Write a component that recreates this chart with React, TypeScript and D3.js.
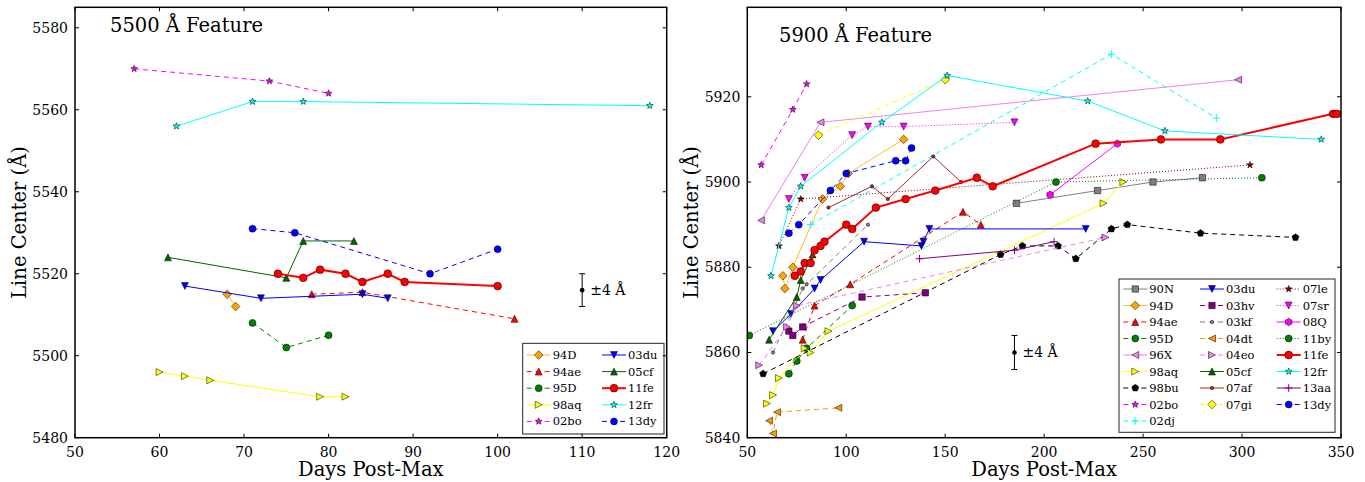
import React, { useRef, useEffect } from "react";
import * as d3 from "d3";

// ---- 5500 Å feature (left panel): [days post-max, line center in Å]
const L94D = [[68, 5515], [69, 5512]];
const L94ae = [[78, 5515], [84, 5515.5], [102, 5509]];
const L95D = [[71, 5508], [75, 5502], [80, 5505]];
const L98aq = [[60, 5496], [63, 5495], [66, 5494], [79, 5490], [82, 5490]];
const L02bo = [[57, 5570], [73, 5567], [80, 5564]];
const L03du = [[63, 5517], [72, 5514], [84, 5515], [87, 5514]];
const L05cf = [[61, 5524], [75, 5519], [77, 5528], [83, 5528]];
const L11fe = [[74, 5520], [77, 5519], [79, 5521], [82, 5520], [84, 5518], [87, 5520], [89, 5518], [100, 5517]];
const L12fr = [[62, 5556], [71, 5562], [77, 5562], [118, 5561]];
const L13dy = [[71, 5531], [76, 5530], [92, 5520], [100, 5526]];

// ---- 5900 Å feature (right panel)
const R90N = [[186, 5895], [227, 5898], [255, 5900], [280, 5901]];
const R94D = [[68, 5878], [69, 5875], [73, 5880], [88, 5896], [97, 5899], [101, 5902], [129, 5910]];
const R94ae = [[78, 5863], [84, 5871], [102, 5876], [159, 5893], [168, 5890]];
const R95D = [[71, 5855], [75, 5858], [80, 5861], [103, 5871]];
const R96X = [[57, 5891], [87, 5914], [298, 5924]];
const R98aq = [[60, 5848], [63, 5850], [66, 5854], [79, 5861], [82, 5860], [91, 5865], [230, 5895], [240, 5900]];
const R98bu = [[58, 5855], [178, 5883], [189, 5885], [207, 5885], [216, 5882], [234, 5889], [242, 5890], [279, 5888], [327, 5887]];
const R02bo = [[57, 5904], [73, 5917], [80, 5923]];
const R02dj = [[82, 5890], [234, 5930], [287, 5915]];
const R03du = [[63, 5865], [72, 5869], [84, 5875], [87, 5877], [109, 5886], [138, 5885], [139, 5886], [142, 5889], [221, 5889]];
const R03hv = [[71, 5865], [73, 5864], [78, 5866], [108, 5873], [140, 5874]];
const R03kf = [[63, 5860], [78, 5875], [80, 5876], [111, 5890]];
const R04dt = [[61, 5844], [63, 5841], [65, 5846], [96, 5847]];
const R04eo = [[56, 5857], [70, 5866], [75, 5871], [231, 5887]];
const R05cf = [[61, 5863], [75, 5873], [77, 5877], [83, 5883]];
const R07af = [[91, 5894], [113, 5899], [121, 5896], [144, 5906], [158, 5900]];
const R07gi = [[86, 5911], [150, 5924]];
const R07le = [[66, 5885], [77, 5896], [304, 5904]];
const R07sr = [[71, 5896], [79, 5901], [103, 5911], [111, 5913], [129, 5913], [185, 5914]];
const R08Q = [[203, 5897], [237, 5909]];
const R11by = [[51, 5864], [206, 5900], [310, 5901]];
const R11fe = [[74, 5878], [77, 5879], [79, 5881], [82, 5881], [84, 5884], [87, 5885], [89, 5886], [100, 5890], [103, 5889],
  [115, 5894], [130, 5896], [145, 5898], [166, 5901], [174, 5899], [226, 5909], [259, 5910], [289, 5910], [346, 5916], [348, 5916]];
const R12fr = [[62, 5878], [71, 5894], [77, 5899], [118, 5914], [151, 5925], [222, 5919], [261, 5912], [340, 5910]];
const R13aa = [[137, 5882], [185, 5884], [205, 5886]];
const R13dy = [[71, 5888], [76, 5890], [92, 5898], [100, 5902], [125, 5905], [130, 5905], [133, 5908]];

// error bar examples [day, center, half-width]
const ERR_LEFT = [110, 5516, 4];
const ERR_RIGHT = [185, 5860, 4];

const LEFT_X_TICKS = [50, 60, 70, 80, 90, 100, 110, 120];
const LEFT_Y_TICKS = [5480, 5500, 5520, 5540, 5560, 5580];
const RIGHT_X_TICKS = [50, 100, 150, 200, 250, 300, 350];
const RIGHT_Y_TICKS = [5840, 5860, 5880, 5900, 5920];

const LEFT_NAMES = ["94D", "94ae", "95D", "98aq", "02bo", "03du", "05cf", "11fe", "12fr", "13dy"];
const RIGHT_NAMES = ["90N", "94D", "94ae", "95D", "96X", "98aq", "98bu", "02bo", "02dj", "03du", "03hv", "03kf", "04dt",
  "04eo", "05cf", "07af", "07gi", "07le", "07sr", "08Q", "11by", "11fe", "12fr", "13aa", "13dy"];

const LEFT_DATA = { "94D": L94D, "94ae": L94ae, "95D": L95D, "98aq": L98aq, "02bo": L02bo, "03du": L03du, "05cf": L05cf, "11fe": L11fe, "12fr": L12fr, "13dy": L13dy };
const RIGHT_DATA = {
  "90N": R90N, "94D": R94D, "94ae": R94ae, "95D": R95D, "96X": R96X, "98aq": R98aq, "98bu": R98bu, "02bo": R02bo, "02dj": R02dj,
  "03du": R03du, "03hv": R03hv, "03kf": R03kf, "04dt": R04dt, "04eo": R04eo, "05cf": R05cf, "07af": R07af, "07gi": R07gi,
  "07le": R07le, "07sr": R07sr, "08Q": R08Q, "11by": R11by, "11fe": R11fe, "12fr": R12fr, "13aa": R13aa, "13dy": R13dy
};

// look per supernova: colour, marker, line style
const STYLES = {
  "90N": { c: "#808080", m: "s", ls: "-" },
  "94D": { c: "#ffa500", m: "D", ls: "-", a: 0.8 },
  "94ae": { c: "#ff0000", m: "^", ls: "--" },
  "95D": { c: "#008000", m: "o", ls: "--" },
  "96X": { c: "#ee82ee", m: "<", ls: "-" },
  "98aq": { c: "#ffff00", m: ">", ls: "-" },
  "98bu": { c: "#000000", m: "p", ls: "--" },
  "02bo": { c: "#ff00ff", m: "*", ls: "--" },
  "02dj": { c: "#00ffff", m: "+", ls: "--" },
  "03du": { c: "#0000ff", m: "v", ls: "-" },
  "03hv": { c: "#800080", m: "s", ls: "--" },
  "03kf": { c: "#808080", m: ".", ls: "--" },
  "04dt": { c: "#ff9900", m: "<", ls: "--" },
  "04eo": { c: "#ee82ee", m: ">", ls: "--" },
  "05cf": { c: "#006400", m: "^", ls: "-" },
  "07af": { c: "#a52a2a", m: ".", ls: "-" },
  "07gi": { c: "#ffff00", m: "D", ls: "--" },
  "07le": { c: "#800000", m: "*", ls: ":" },
  "07sr": { c: "#ff00ff", m: "v", ls: ":" },
  "08Q": { c: "#ff00ff", m: "h", ls: "-" },
  "11by": { c: "#008000", m: "o", ls: ":" },
  "11fe": { c: "#ff0000", m: "o", ls: "-", lw: 2 },
  "12fr": { c: "#00ffff", m: "*", ls: "-" },
  "13aa": { c: "#800080", m: "+", ls: "-" },
  "13dy": { c: "#0000ff", m: "o", ls: "--" }
};

const DASH = { "-": null, "--": "5,4", ":": "1,2" };
const FONT = "DejaVu Serif, serif";

function poly(pts) {
  return "M" + pts.map(p => `${p[0].toFixed(2)},${p[1].toFixed(2)}`).join("L") + "Z";
}

function regular(n, r, start) {
  return d3.range(n).map(i => {
    const a = start + (i * 2 * Math.PI) / n;
    return [r * Math.cos(a), r * Math.sin(a)];
  });
}

function markerPath(m, big) {
  const h = big ? 3.9 : 3.5;
  switch (m) {
    case "o": return d3.symbol(d3.symbolCircle, Math.PI * h * h)();
    case ".": return d3.symbol(d3.symbolCircle, Math.PI * 1.7 * 1.7)();
    case "s": return poly([[-3.2, -3.2], [3.2, -3.2], [3.2, 3.2], [-3.2, 3.2]]);
    case "D": return poly([[0, -4.3], [4.3, 0], [0, 4.3], [-4.3, 0]]);
    case "^": return poly([[0, -h], [h, h], [-h, h]]);
    case "v": return poly([[0, h], [h, -h], [-h, -h]]);
    case "<": return poly([[-h, 0], [h, -h], [h, h]]);
    case ">": return poly([[h, 0], [-h, -h], [-h, h]]);
    case "p": return poly(regular(5, 3.7, -Math.PI / 2));
    case "h": return poly(regular(6, 3.7, -Math.PI / 2));
    case "*": {
      const pts = d3.range(10).map(i => {
        const r = i % 2 === 0 ? 3.6 : 1.5;
        const a = -Math.PI / 2 + (i * Math.PI) / 5;
        return [r * Math.cos(a), r * Math.sin(a)];
      });
      return poly(pts);
    }
    case "+": return "M-3.8,0H3.8M0,-3.8V3.8";
    default: return "";
  }
}

function drawMarker(g, st, px, py) {
  const path = g.append("path")
    .attr("d", markerPath(st.m, st.lw === 2))
    .attr("transform", `translate(${px},${py})`);
  if (st.m === "+") {
    path.attr("fill", "none").attr("stroke", st.c).attr("stroke-width", 1);
  } else {
    path.attr("fill", st.c).attr("stroke", "#000").attr("stroke-width", 0.5);
  }
}

function drawPanel(svg, p) {
  const x = d3.scaleLinear().domain(p.xDomain).range([p.left, p.right]);
  const y = d3.scaleLinear().domain(p.yDomain).range([p.bottom, p.top]);
  const g = svg.append("g");

  svg.append("defs").append("clipPath").attr("id", "clip-" + p.id)
    .append("rect")
    .attr("x", p.left).attr("y", p.top)
    .attr("width", p.right - p.left).attr("height", p.bottom - p.top);

  const plot = g.append("g").attr("clip-path", `url(#clip-${p.id})`);
  const line = d3.line().x(d => x(d[0])).y(d => y(d[1]));

  p.names.forEach(name => {
    const st = STYLES[name];
    const pts = p.data[name];
    plot.append("path")
      .attr("d", line(pts))
      .attr("fill", "none")
      .attr("stroke", st.c)
      .attr("stroke-width", st.lw || 1)
      .attr("stroke-dasharray", DASH[st.ls])
      .attr("opacity", st.a || 1);
    pts.forEach(d => drawMarker(plot, st, x(d[0]), y(d[1])));
  });

  // the ±4 Å error example
  const [ed, ev, ee] = p.err;
  const ex = x(ed);
  g.append("line").attr("x1", ex).attr("x2", ex).attr("y1", y(ev - ee)).attr("y2", y(ev + ee))
    .attr("stroke", "#000").attr("stroke-width", 1);
  [ev - ee, ev + ee].forEach(v => {
    g.append("line").attr("x1", ex - 3).attr("x2", ex + 3).attr("y1", y(v)).attr("y2", y(v))
      .attr("stroke", "#000").attr("stroke-width", 1);
  });
  g.append("circle").attr("cx", ex).attr("cy", y(ev)).attr("r", 2.3).attr("fill", "#000");
  g.append("text").attr("x", ex + 8).attr("y", y(ev)).attr("dy", "0.35em")
    .style("font-family", FONT).style("font-size", "14px").text("±4 Å");

  // legend: matplotlib fills columns top to bottom, the first ones get the extra rows
  const L = p.legend;
  const nCols = L.cols.length;
  const rows = Math.ceil(p.names.length / nCols);
  const extra = p.names.length - (rows - 1) * nCols;
  g.append("rect").attr("x", L.x).attr("y", L.y).attr("width", L.w).attr("height", L.h)
    .attr("fill", "#fff").attr("stroke", "#222").attr("stroke-width", 1);
  let idx = 0;
  for (let col = 0; col < nCols; col++) {
    const n = col < extra ? rows : rows - 1;
    for (let row = 0; row < n; row++, idx++) {
      const name = p.names[idx];
      const st = STYLES[name];
      const lx = L.cols[col];
      const ly = L.y0 + row * L.dy;
      g.append("line").attr("x1", lx).attr("x2", lx + 24).attr("y1", ly).attr("y2", ly)
        .attr("stroke", st.c).attr("stroke-width", st.lw || 1)
        .attr("stroke-dasharray", DASH[st.ls]).attr("opacity", st.a || 1);
      drawMarker(g, st, lx + 12, ly);
      g.append("text").attr("x", lx + 26).attr("y", ly).attr("dy", "0.35em")
        .style("font-family", FONT).style("font-size", "11.5px").text(name);
    }
  }

  // frame and inward ticks
  g.append("rect").attr("x", p.left).attr("y", p.top)
    .attr("width", p.right - p.left).attr("height", p.bottom - p.top)
    .attr("fill", "none").attr("stroke", "#000").attr("stroke-width", 1.5);

  p.xTicks.forEach(t => {
    const px = x(t);
    g.append("line").attr("x1", px).attr("x2", px).attr("y1", p.bottom).attr("y2", p.bottom - 4).attr("stroke", "#000");
    g.append("line").attr("x1", px).attr("x2", px).attr("y1", p.top).attr("y2", p.top + 4).attr("stroke", "#000");
    g.append("text").attr("x", px).attr("y", p.bottom + 19).attr("text-anchor", "middle")
      .style("font-family", FONT).style("font-size", "14px").text(t);
  });
  p.yTicks.forEach(t => {
    const py = y(t);
    g.append("line").attr("x1", p.left).attr("x2", p.left + 4).attr("y1", py).attr("y2", py).attr("stroke", "#000");
    g.append("line").attr("x1", p.right).attr("x2", p.right - 4).attr("y1", py).attr("y2", py).attr("stroke", "#000");
    g.append("text").attr("x", p.left - 7).attr("y", py).attr("dy", "0.35em").attr("text-anchor", "end")
      .style("font-family", FONT).style("font-size", "14px").text(t);
  });

  g.append("text").attr("x", (p.left + p.right) / 2).attr("y", 476).attr("text-anchor", "middle")
    .style("font-family", FONT).style("font-size", "19.5px").text("Days Post-Max");
  g.append("text")
    .attr("transform", `translate(${p.ylabelX},${(p.top + p.bottom) / 2}) rotate(-90)`)
    .attr("text-anchor", "middle")
    .style("font-family", FONT).style("font-size", "19.5px").text("Line Center (Å)");
  g.append("text").attr("x", p.titleX).attr("y", p.titleY)
    .style("font-family", FONT).style("font-size", "19.5px").text(p.title);
}

export default function App() {
  const svgRef = useRef(null);

  useEffect(() => {
    const svg = d3.select(svgRef.current);
    svg.selectAll("*").remove();

    drawPanel(svg, {
      id: "left", title: "5500 Å Feature", titleX: 110, titleY: 32, ylabelX: 26,
      left: 75, right: 666.7, top: 7.3, bottom: 437.7,
      xDomain: [50, 120], yDomain: [5480, 5585],
      xTicks: LEFT_X_TICKS, yTicks: LEFT_Y_TICKS,
      names: LEFT_NAMES, data: LEFT_DATA, err: ERR_LEFT,
      legend: { x: 522.7, y: 343.3, w: 141.3, h: 90.7, y0: 355, dy: 16.6, cols: [526.7, 602] }
    });

    drawPanel(svg, {
      id: "right", title: "5900 Å Feature", titleX: 779, titleY: 42, ylabelX: 698,
      left: 747.3, right: 1341, top: 7.3, bottom: 437.7,
      xDomain: [50, 350], yDomain: [5840, 5941],
      xTicks: RIGHT_X_TICKS, yTicks: RIGHT_Y_TICKS,
      names: RIGHT_NAMES, data: RIGHT_DATA, err: ERR_RIGHT,
      legend: { x: 1119, y: 279, w: 216, h: 153.3, y0: 289, dy: 16.5, cols: [1123.3, 1200, 1276.7] }
    });
  }, []);

  return (
    <svg
      ref={svgRef}
      width={1365}
      height={482}
      style={{ position: "absolute", left: 0, top: 0, background: "#fff" }}
    />
  );
}
